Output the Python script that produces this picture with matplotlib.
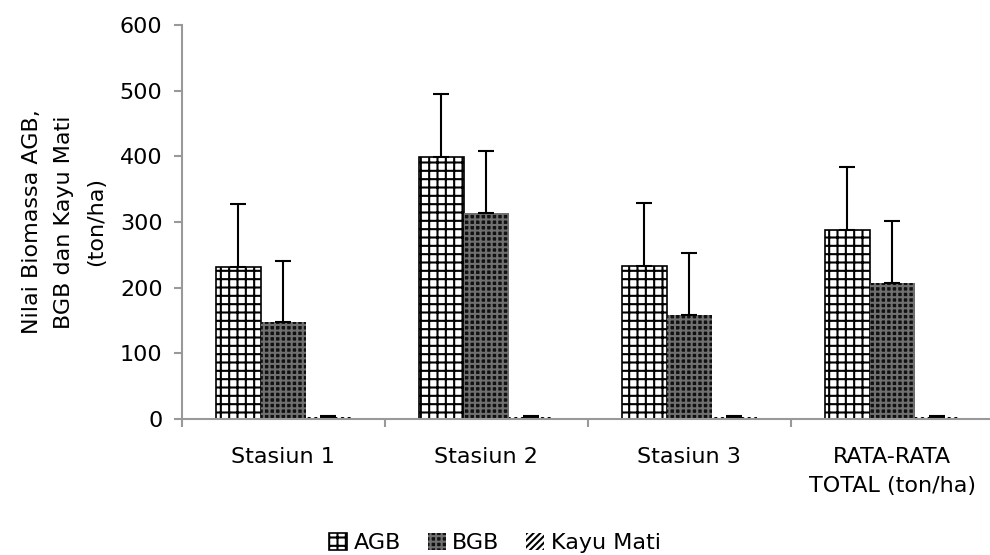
import matplotlib.pyplot as plt
import numpy as np

plt.rcParams['hatch.linewidth'] = 1.5

categories = ['Stasiun 1', 'Stasiun 2', 'Stasiun 3', 'RATA-RATA\nTOTAL (ton/ha)']
agb = [231, 399, 233, 288]
agb_err = [96, 96, 96, 96]
bgb = [148, 314, 159, 207]
bgb_err = [93, 94, 94, 94]
kayu_mati = [3, 3, 3, 3]
kayu_err = [1, 1, 1, 1]
yticks = [0, 100, 200, 300, 400, 500, 600]

fig = plt.figure(figsize=(9.9, 5.55), dpi=100)
ax = fig.add_axes([0.1838, 0.245, 0.820, 0.710])

x = np.arange(len(categories))
w = 0.222
ekw = dict(ecolor='black', elinewidth=1.5, capsize=6, capthick=1.5)

ax.bar(x - w, agb, w, facecolor='white', edgecolor='black', hatch='++',
       linewidth=1.2, label='AGB',
       yerr=[np.zeros(4), agb_err], error_kw=ekw)
ax.bar(x, bgb, w, facecolor='#111111', edgecolor='#707070', hatch='+++',
       linewidth=0, label='BGB',
       yerr=[np.zeros(4), bgb_err], error_kw=ekw)
ax.bar(x + w, kayu_mati, w, facecolor='white', edgecolor='black', hatch='/////',
       linewidth=0, label='Kayu Mati',
       yerr=[np.zeros(4), kayu_err], error_kw=ekw)

ax.set_xlim(-0.5, 3.5)
ax.set_ylim(0, 600)
ax.set_yticks(yticks)
ax.set_xticks(x)
ax.set_xticklabels(categories, fontsize=16, linespacing=1.55)
ax.set_xticks(np.arange(-0.5, 4, 1), minor=True)
ax.tick_params(axis='x', which='major', length=0, pad=20)
ax.tick_params(axis='x', which='minor', length=6, color='#999999', width=1.5)
ax.tick_params(axis='y', length=6, color='#999999', width=1.5, labelsize=16, pad=8)

for s in ['top', 'right']:
    ax.spines[s].set_visible(False)
for s in ['left', 'bottom']:
    ax.spines[s].set_color('#999999')
    ax.spines[s].set_linewidth(1.5)

ax.set_ylabel('Nilai Biomassa AGB,\nBGB dan Kayu Mati\n(ton/ha)', fontsize=16,
              labelpad=10, linespacing=1.75)

fig.legend(loc='center', bbox_to_anchor=(0.5, 0.022), ncol=3, frameon=False,
           fontsize=16, handlelength=0.8, handleheight=0.8, handletextpad=0.3,
           columnspacing=1.2)

plt.savefig('out.png', dpi=100)
